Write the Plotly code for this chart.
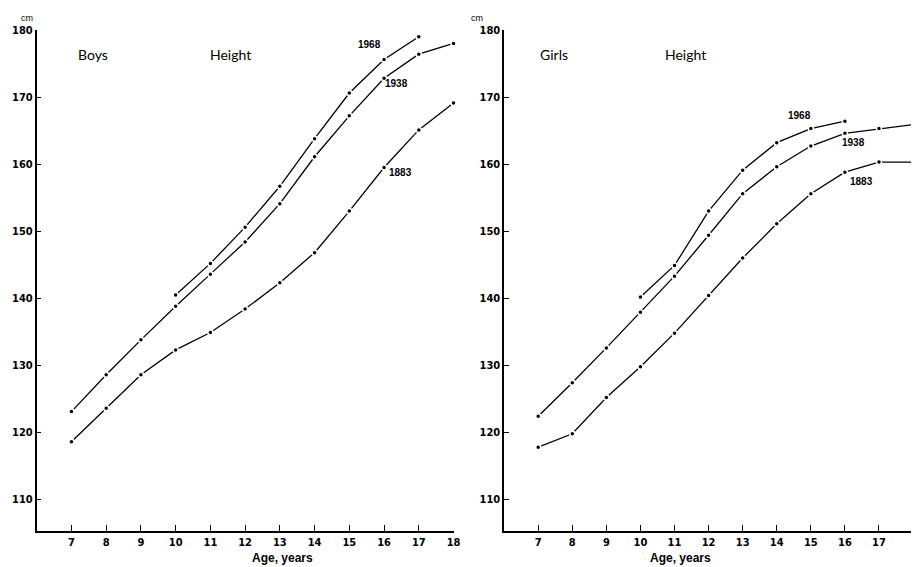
import plotly.graph_objects as go

# ---- data ----
boys_1968_age = [10, 11, 12, 13, 14, 15, 16, 17]
boys_1968_cm = [140.5, 145.2, 150.6, 156.7, 163.8, 170.6, 175.6, 179.0]
boys_1938_age = [7, 8, 9, 10, 11, 12, 13, 14, 15, 16, 17, 18]
boys_1938_cm = [123.1, 128.6, 133.8, 138.8, 143.6, 148.4, 154.1, 161.1, 167.2, 172.8, 176.4, 178.0]
boys_1883_age = [7, 8, 9, 10, 11, 12, 13, 14, 15, 16, 17, 18]
boys_1883_cm = [118.6, 123.6, 128.6, 132.3, 134.9, 138.4, 142.3, 146.8, 153.0, 159.5, 165.1, 169.1]

girls_1968_age = [10, 11, 12, 13, 14, 15, 16]
girls_1968_cm = [140.2, 144.9, 153.0, 159.1, 163.2, 165.3, 166.4]
girls_1938_age = [7, 8, 9, 10, 11, 12, 13, 14, 15, 16, 17, 18]
girls_1938_cm = [122.4, 127.4, 132.6, 137.9, 143.3, 149.4, 155.6, 159.6, 162.7, 164.6, 165.3, 165.9]
girls_1883_age = [7, 8, 9, 10, 11, 12, 13, 14, 15, 16, 17, 18]
girls_1883_cm = [117.8, 119.8, 125.2, 129.8, 134.8, 140.4, 146.0, 151.1, 155.6, 158.8, 160.3, 160.3]

x_ticks = [7, 8, 9, 10, 11, 12, 13, 14, 15, 16, 17, 18]
y_ticks = [110, 120, 130, 140, 150, 160, 170, 180]

fig = go.Figure()

def add_series(xs, ys, xa, ya):
    fig.add_trace(go.Scatter(
        x=xs, y=ys, xaxis=xa, yaxis=ya, mode="lines+markers",
        line=dict(color="black", width=1.3),
        marker=dict(color="black", size=5, line=dict(color="white", width=1.5)),
        showlegend=False, cliponaxis=False, hoverinfo="x+y"))

add_series(boys_1968_age, boys_1968_cm, "x", "y")
add_series(boys_1938_age, boys_1938_cm, "x", "y")
add_series(boys_1883_age, boys_1883_cm, "x", "y")
add_series(girls_1968_age, girls_1968_cm, "x2", "y2")
add_series(girls_1938_age, girls_1938_cm, "x2", "y2")
add_series(girls_1883_age, girls_1883_cm, "x2", "y2")

tickfont = dict(family="Liberation Sans Narrow, Arial Narrow, DejaVu Sans Condensed, sans-serif",
                size=11, color="black", weight="bold")

xcommon = dict(range=[6, 18], tickvals=x_ticks, ticktext=[str(v) for v in x_ticks],
               showline=True, linecolor="black", linewidth=1.5, ticks="inside",
               ticklen=6, tickwidth=1.2, tickcolor="black", showgrid=False,
               zeroline=False, tickfont=tickfont, fixedrange=True)
ycommon = dict(range=[105.3, 180], tickvals=y_ticks, ticktext=[str(v) for v in y_ticks],
               showline=True, linecolor="black", linewidth=1.5, ticks="inside",
               ticklen=5, tickwidth=1.2, tickcolor="black", showgrid=False,
               zeroline=False, tickfont=tickfont, fixedrange=True)

fig.update_layout(
    width=918, height=567,
    margin=dict(l=0, r=0, t=30, b=36),
    paper_bgcolor="white", plot_bgcolor="white",
    xaxis=dict(domain=[37 / 918, 457 / 918], anchor="y", **xcommon),
    yaxis=dict(domain=[0, 1], anchor="x", **ycommon),
    xaxis2=dict(domain=[508 / 918, 1.0], anchor="y2", **{**xcommon, "range": [6, 17.94]}),
    yaxis2=dict(domain=[0, 1], anchor="x2", **ycommon),
)

labfont = dict(family="Lato, Open Sans, sans-serif", size=14, color="black")
yearfont = dict(family="Liberation Sans Narrow, Arial Narrow, sans-serif", size=10,
                color="black", weight="bold")
titlefont = dict(family="Liberation Sans, Arial, sans-serif", size=12, color="black",
                 weight="bold")
cmfont = dict(family="Liberation Sans, Arial", size=9, color="black")

ann = []
# panel labels
ann.append(dict(text="Boys", x=7.63, y=176.4, xref="x", yref="y", showarrow=False, font=labfont))
ann.append(dict(text="Height", x=11.59, y=176.4, xref="x", yref="y", showarrow=False, font=labfont))
ann.append(dict(text="Girls", x=7.47, y=176.4, xref="x2", yref="y2", showarrow=False, font=labfont))
ann.append(dict(text="Height", x=11.33, y=176.4, xref="x2", yref="y2", showarrow=False, font=labfont))
# year labels
ann.append(dict(text="1968", x=15.57, y=177.9, xref="x", yref="y", showarrow=False, font=yearfont))
ann.append(dict(text="1938", x=16.37, y=172.0, xref="x", yref="y", showarrow=False, font=yearfont))
ann.append(dict(text="1883", x=16.46, y=158.8, xref="x", yref="y", showarrow=False, font=yearfont))
ann.append(dict(text="1968", x=14.66, y=167.2, xref="x2", yref="y2", showarrow=False, font=yearfont))
ann.append(dict(text="1938", x=16.25, y=163.3, xref="x2", yref="y2", showarrow=False, font=yearfont))
ann.append(dict(text="1883", x=16.48, y=157.4, xref="x2", yref="y2", showarrow=False, font=yearfont))
# units (paper coords are relative to the plot area: y=1 is 30 px from top)
ann.append(dict(text="cm", x=19 / 918, y=1 + (30 - 18) / 501, xref="paper", yref="paper",
                yanchor="middle", showarrow=False, font=cmfont))
ann.append(dict(text="cm", x=481 / 918, y=1 + (30 - 18) / 501, xref="paper", yref="paper",
                yanchor="middle", showarrow=False, font=cmfont))
# axis titles
ann.append(dict(text="Age, years", x=252 / 918, y=-(558 - 531) / 501, xref="paper", yref="paper",
                yanchor="middle", showarrow=False, font=titlefont))
ann.append(dict(text="Age, years", x=718 / 918, y=-(558 - 531) / 501, xref="paper", yref="paper",
                yanchor="middle", showarrow=False, font=titlefont))
fig.update_layout(annotations=ann)

fig.write_html("out.html", config={"displayModeBar": False},
               post_script="document.body.style.margin='0';document.body.style.overflow='hidden';")
